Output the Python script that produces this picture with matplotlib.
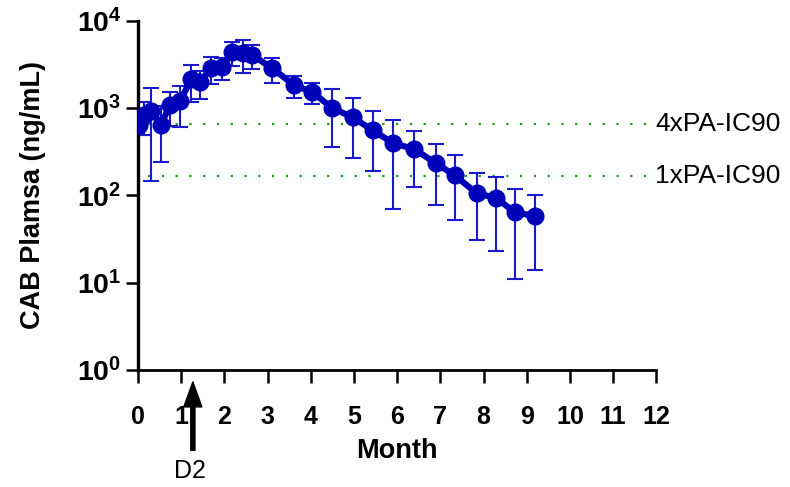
import matplotlib
matplotlib.use("Agg")
import matplotlib.pyplot as plt
import numpy as np

plt.rcParams['font.family'] = ['Liberation Sans', 'DejaVu Sans']

# CAB plasma concentration, mean +/- SD
month = [0.03, 0.14, 0.30, 0.53, 0.74, 0.97, 1.23, 1.44, 1.69, 1.94, 2.18, 2.43,
         2.65, 3.11, 3.62, 4.04, 4.50, 4.97, 5.43, 5.91, 6.40, 6.89, 7.33, 7.84,
         8.30, 8.72, 9.20]
cab_mean = [640, 827, 915, 645, 1073, 1190, 2130, 1970, 2850, 2930, 4350, 4240,
            4020, 2850, 1820, 1520, 995, 785, 557, 396, 338, 234, 170, 106,
            93, 64, 58]
cab_sd = [150, 338, 770, 405, 443, 590, 960, 700, 950, 810, 1300, 1730,
          1225, 897, 525, 394, 638, 514, 365, 326, 214, 156, 118, 75,
          70, 53, 44]

# reference thresholds (ng/mL)
thresholds = [664, 166]
threshold_labels = ["4xPA-IC90", "1xPA-IC90"]

x_ticks = list(range(0, 13))
y_ticks = [1, 10, 100, 1000, 10000]
y_ticklabels = [r"$\mathbf{10^{0}}$", r"$\mathbf{10^{1}}$", r"$\mathbf{10^{2}}$",
                r"$\mathbf{10^{3}}$", r"$\mathbf{10^{4}}$"]

plt.rcParams['mathtext.fontset'] = 'custom'
plt.rcParams['mathtext.rm'] = 'Liberation Sans'
plt.rcParams['mathtext.bf'] = 'Liberation Sans:bold'

fig = plt.figure(figsize=(7.9, 4.87), dpi=100)
ax = fig.add_axes([0.1747, 0.2402, 0.656, 0.7173])

# threshold lines
for t, lab in zip(thresholds, threshold_labels):
    ax.plot([0.22, 11.85], [t, t], color="#1e9a1e", linewidth=1.6,
            linestyle=(0, (1, 5.2)), zorder=1)
    ax.text(11.97, t, lab, fontsize=19, va="center", ha="left",
            clip_on=False)

# error bars + line
ax.errorbar(month, cab_mean, yerr=cab_sd, fmt="none", ecolor="#1a1acc",
            elinewidth=1.5, capsize=6, capthick=1.5, zorder=2)
ax.plot(month, cab_mean, color="#0000b8", linewidth=4.5, marker="o",
        markersize=12, zorder=3)

ax.set_yscale("log")
ax.set_ylim(1, 10000)
ax.set_xlim(0, 12)
ax.set_xticks(x_ticks)
ax.set_xticklabels([str(v) for v in x_ticks], fontsize=18, fontweight="bold")
ax.set_yticks(y_ticks)
ax.set_yticklabels(y_ticklabels, fontsize=20.5)
ax.yaxis.set_minor_locator(matplotlib.ticker.NullLocator())

for s in ["top", "right"]:
    ax.spines[s].set_visible(False)
ax.spines["left"].set_linewidth(2.4)
ax.spines["bottom"].set_linewidth(2.0)
ax.tick_params(axis="both", which="major", length=9, width=1.8, direction="out")
ax.tick_params(axis="x", pad=16)
ax.tick_params(axis="y", pad=3)

ax.set_xlabel("Month", fontsize=19.5, fontweight="bold", labelpad=7)
ax.set_ylabel("CAB Plamsa (ng/mL)", fontsize=19.5, fontweight="bold", labelpad=22)

# dose arrow (D2)
ax.annotate("", xy=(1.27, -0.034), xytext=(1.27, -0.23),
            xycoords=("data", "axes fraction"),
            textcoords=("data", "axes fraction"),
            arrowprops=dict(width=3, headwidth=13, headlength=18, color="black"),
            annotation_clip=False)
ax.text(1.2, -0.255, "D2", transform=ax.get_xaxis_transform(), fontsize=18,
        ha="center", va="top", clip_on=False)

plt.savefig("out.png", dpi=100)
